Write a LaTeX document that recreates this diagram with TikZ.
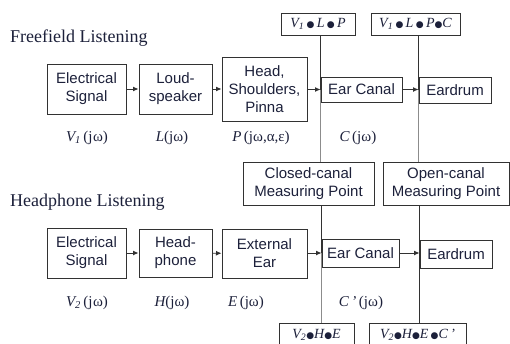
\documentclass[tikz,border=0pt]{standalone}
\usepackage{fontspec}
\setmainfont{Liberation Serif}
\newfontfamily\arialf{Liberation Sans}
\newfontfamily\dejavuf{DejaVu Sans}
\usetikzlibrary{arrows.meta}
\definecolor{textc}{RGB}{28,32,58}
\definecolor{linec}{RGB}{50,50,50}
\definecolor{lightl}{RGB}{140,140,140}
\newcommand{\bul}{{\dejavuf\fontsize{9}{9}\selectfont\raisebox{0.5pt}{●}}}
\newcommand{\sbx}[1]{\textsubscript{\itshape #1}}
\begin{document}
\begin{tikzpicture}[x=1pt,y=-1pt,
  box/.style={draw=linec, line width=1pt, inner sep=0pt, align=center,
    font=\arialf\fontsize{15}{18}\selectfont, text=textc},
  mbox/.style={draw=linec, line width=1pt, inner sep=0pt, align=center,
    font=\fontsize{14}{16}\selectfont, text=textc},
  lab/.style={font=\fontsize{15}{17}\selectfont, text=textc, inner sep=0pt},
  ttl/.style={font=\fontsize{18}{20}\selectfont, text=textc, inner sep=0pt, anchor=west},
  arr/.style={draw=linec, line width=0.9pt, -{Latex[length=5.5pt,width=5pt]}},
  vline/.style={draw=linec, line width=1pt},
  vlight/.style={draw=lightl, line width=1pt}]
\useasboundingbox (0,0) rectangle (510,343);
\clip (0,0) rectangle (510,343);
% titles
\node[ttl] (t1) at (10,38) {Freefield Listening};
\node[ttl] (t2) at (10,202) {Headphone Listening};
% top row
\node[box, minimum width=79, minimum height=50] (e1) at (86.5,89) {Electrical\\Signal};
\node[box, minimum width=73, minimum height=50] (l1) at (175.5,89) {Loud-\\speaker};
\node[box, minimum width=85, minimum height=64] (h1) at (264.5,89) {Head,\\Shoulders,\\Pinna};
\node[box, minimum width=81, minimum height=25] (c1) at (361.5,89.5) {Ear Canal};
\node[box, minimum width=72, minimum height=26] (d1) at (455,90) {Eardrum};
\node[mbox, minimum width=74, minimum height=22] (m1) at (318,24) {{\itshape V\sbx{1}}\,\bul\,{\itshape L}\,\bul\,{\itshape P}};
\node[mbox, minimum width=89, minimum height=22] (m2) at (415.5,24) {{\itshape V\sbx{1}}\,\bul\,{\itshape L}\,\bul\,{\itshape P}\bul{\itshape C}};
% measuring points
\node[box, minimum width=131, minimum height=43] (cp) at (308.5,183.5) {Closed-canal\\Measuring Point};
\node[box, minimum width=126, minimum height=43] (op) at (446,183.5) {Open-canal\\Measuring Point};
% bottom row
\node[box, minimum width=79, minimum height=50] (e2) at (86.5,253) {Electrical\\Signal};
\node[box, minimum width=73, minimum height=48] (l2) at (175.5,253) {Head-\\phone};
\node[box, minimum width=85, minimum height=49] (h2) at (264.5,253.5) {External\\Ear};
\node[box, minimum width=77, minimum height=28] (c2) at (360.5,253) {Ear Canal};
\node[box, minimum width=72, minimum height=28] (d2) at (456,254) {Eardrum};
\node[mbox, minimum width=75, minimum height=24] (m3) at (316.5,335) {{\itshape V\sbx{2}}\bul{\itshape H}\bul{\itshape E}};
\node[mbox, minimum width=97, minimum height=24] (m4) at (417.5,335) {{\itshape V\sbx{2}}\bul{\itshape H}\bul{\itshape E}\,\bul{\itshape C\,'}};
% labels
\node[lab] (a1) at (87,138) {{\itshape V\sbx{1}}\,(j\kern0.5pt ω)};
\node[lab] (a2) at (172,138) {{\itshape L}(jω)};
\node[lab] (a3) at (261,138) {{\itshape P}\,(jω,α,ε)};
\node[lab] (a4) at (358,138) {{\itshape C}\,(jω)};
\node[lab] (b1) at (87,303) {{\itshape V\sbx{2}}\,(j\kern0.5pt ω)};
\node[lab] (b2) at (172,303) {{\itshape H}(jω)};
\node[lab] (b3) at (246,303) {{\itshape E}\,(jω)};
\node[lab] (b4) at (361,303) {{\itshape C\,'}\,(jω)};
% vertical lines
\draw[vline] (m1.south -| c1.west) -- (c1.west);
\draw[vlight] (c1.west) -- (cp.north -| c1.west);
\draw[vline] (m2.south -| d1.west) -- (d1.west);
\draw[vlight] (d1.west) -- (op.north -| d1.west);
\draw[vline] (cp.south -| c2.west) -- (c2.west);
\draw[vlight] (c2.west) -- (m3.north -| c2.west);
\draw[vline] (op.south -| d2.west) -- (m4.north -| d2.west);
% arrows
\draw[arr] (e1) -- (l1);
\draw[arr] (l1) -- (h1);
\draw[arr] (h1.east |- c1.west) -- (c1.west);
\draw[arr] (c1) -- (d1.west |- c1.east);
\draw[arr] (e2) -- (l2);
\draw[arr] (l2) -- (h2);
\draw[arr] (h2.east |- c2.west) -- (c2.west);
\draw[arr] (c2) -- (d2.west |- c2.east);
\end{tikzpicture}
\end{document}
